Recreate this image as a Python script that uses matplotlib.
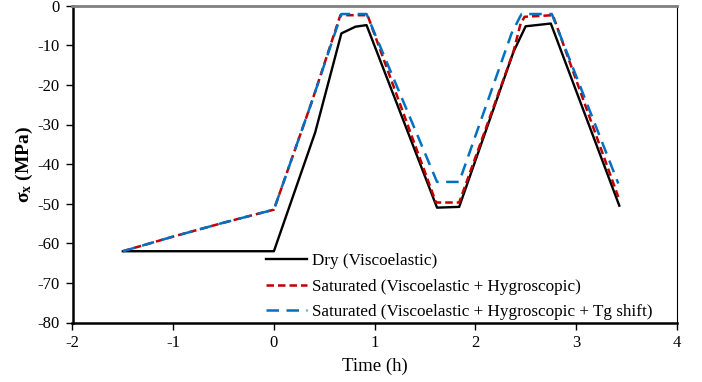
import matplotlib
matplotlib.use("Agg")
import matplotlib.pyplot as plt

plt.rcParams['font.family'] = ['Liberation Serif', 'DejaVu Serif']
plt.rcParams['mathtext.fontset'] = 'custom'
plt.rcParams['mathtext.rm'] = 'Liberation Serif'
plt.rcParams['mathtext.bf'] = 'Liberation Serif:bold'
plt.rcParams['mathtext.it'] = 'Liberation Serif:italic'

# Data
dry_t = [-1.5, 0.0, 0.41, 0.67, 0.81, 0.92, 1.62, 1.84, 2.38, 2.50, 2.75, 3.43]
dry_s = [-62, -62, -32, -7, -5.3, -4.9, -51, -50.8, -11.6, -5.2, -4.5, -50.5]

sat_t = [-1.5, -1.0, -0.5, 0.0, 0.38, 0.66, 0.93, 1.61, 1.84, 2.38, 2.45, 2.49, 2.77, 3.42]
sat_s = [-62, -58.3, -54.8, -51.5, -24, -2.4, -2.4, -49.7, -49.7, -11.5, -4.5, -2.8, -2.4, -48.3]

tg_t = [-1.5, -1.0, -0.5, 0.0, 0.38, 0.67, 0.92, 1.62, 1.84, 2.36, 2.44, 2.46, 2.76, 3.42]
tg_s = [-62, -58.3, -54.8, -51.5, -24, -2.1, -2.1, -44.5, -44.5, -7, -3.0, -2.1, -2.1, -44.9]

labels = ["Dry (Viscoelastic)",
          "Saturated (Viscoelastic + Hygroscopic)",
          "Saturated (Viscoelastic + Hygroscopic + Tg shift)"]

x_ticks = [-2, -1, 0, 1, 2, 3, 4]
y_ticks = [0, -10, -20, -30, -40, -50, -60, -70, -80]

fig = plt.figure(figsize=(7.02, 3.82), dpi=100)
ax = fig.add_axes([72.5/702, 1-322.5/382, (676.7-72.5)/702, (322.5-5.7)/382])

ax.plot(dry_t, dry_s, color='black', lw=1.7, label=labels[0], zorder=3)
ax.plot(sat_t, sat_s, color='#C00000', lw=1.8, dashes=(3, 1.6), label=labels[1], zorder=4)
ax.plot(tg_t, tg_s, color='#0070C0', lw=1.8, dashes=(5, 3), label=labels[2], zorder=5)

ax.set_xlim(-2, 4)
ax.set_ylim(-80, 0)
ax.set_xticks(x_ticks)
ax.set_yticks(y_ticks)
ax.set_xticklabels([str(v) for v in x_ticks])
ax.set_yticklabels([str(v) for v in y_ticks])
ax.tick_params(axis='both', direction='out', length=5, width=1, labelsize=12, pad=4)

for s in ['left', 'bottom']:
    ax.spines[s].set_linewidth(1.8)
    ax.spines[s].set_color('black')
ax.spines['right'].set_linewidth(0.8)
ax.spines['right'].set_color('black')
ax.spines['top'].set_linewidth(2.0)
ax.spines['top'].set_color('#808080')

ax.set_xlabel('Time (h)', fontsize=13.5, labelpad=5)
ax.set_ylabel(r'σ$_{\mathbf{x}}$ (MPa)', fontsize=14, fontweight='bold', labelpad=2)

leg = ax.legend(loc='upper left', bbox_to_anchor=(266/702, 1-253/382),
                bbox_transform=fig.transFigure, frameon=False, fontsize=12.3,
                handlelength=2.4, handletextpad=0.3, labelspacing=0.57,
                borderpad=0, borderaxespad=0)

fig.savefig('out.png', dpi=100)
